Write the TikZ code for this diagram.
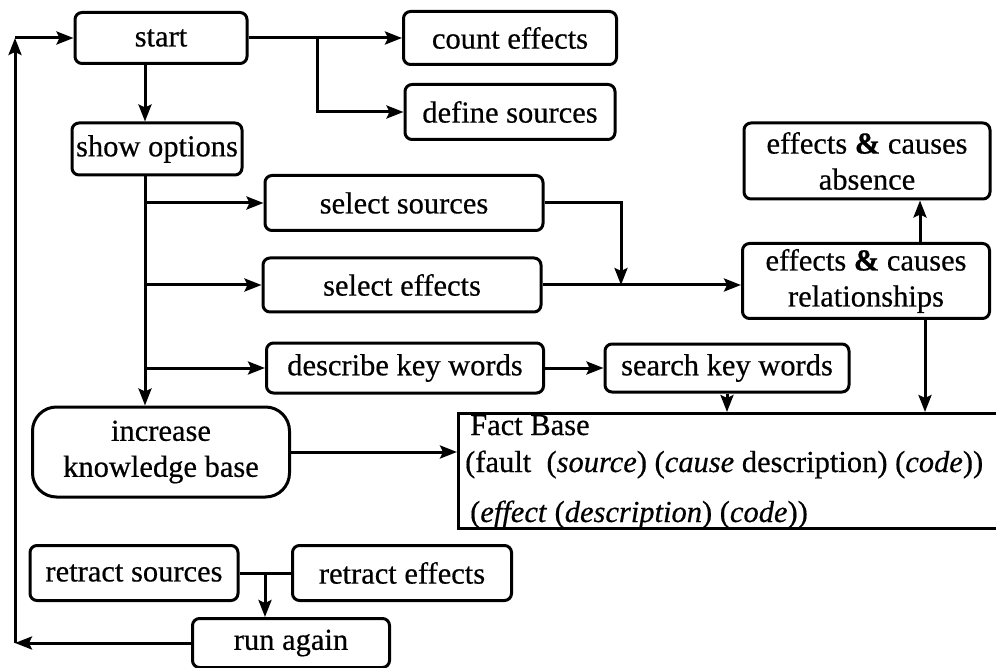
\documentclass[tikz,border=0pt]{standalone}
\usepackage{fontspec}
\setmainfont[FakeBold=0.5]{Liberation Serif}
\usetikzlibrary{arrows.meta}
\begin{document}
\begin{tikzpicture}[x=1pt,y=-1pt,
  box/.style={draw,line width=3pt,rounded corners=7pt,inner sep=0pt,align=center,
    font=\fontsize{30.5}{36}\selectfont},
  conn/.style={line width=3pt},
  arr/.style={conn,-{Stealth[length=17pt,width=13pt,inset=3pt]}},
  ftxt/.style={inner sep=0pt,anchor=base west,font=\fontsize{30.5}{36}\selectfont}]
\fill[white] (0,0) rectangle (996,668);
\clip (0,0) rectangle (996,668);
% nodes
\node[box,minimum width=172pt,minimum height=51pt] (start) at (161,38) {start};
\node[box,minimum width=213pt,minimum height=53pt] (count) at (510,38) {count effects};
\node[box,minimum width=210pt,minimum height=55pt] (define) at (510,112) {define sources};
\node[box,minimum width=170pt,minimum height=52pt] (show) at (157,149) {show options};
\node[box,minimum width=246pt,minimum height=76pt] (absence) at (867,161) {effects \textbf{\&} causes\\absence};
\node[box,minimum width=278pt,minimum height=55pt] (selsrc) at (404,203) {select sources};
\node[box,minimum width=278pt,minimum height=54pt] (seleff) at (402,285) {select effects};
\node[box,minimum width=247pt,minimum height=75pt] (relat) at (866,281) {effects \textbf{\&} causes\\relationships};
\node[box,minimum width=277pt,minimum height=50pt] (describe) at (405,368) {describe key words};
\node[box,minimum width=244pt,minimum height=48pt] (search) at (727,368) {search key words};
\node[box,rounded corners=24pt,minimum width=257pt,minimum height=90pt] (increase) at (161,452) {increase\\knowledge base};
\node[draw,line width=3pt,inner sep=0pt,anchor=north west,minimum width=600pt,minimum height=115pt] (fact) at (457,412) {};
\node[ftxt] (f1) at (470,435) {Fact Base};
\node[ftxt] (f2) at (465,472) {(fault\ \ (\textit{source}) (\textit{cause} description) (\textit{code}))};
\node[ftxt] (f3) at (470,522) {(\textit{effect} (\textit{description}) (\textit{code}))};
\node[box,minimum width=208pt,minimum height=55pt] (retsrc) at (134,573) {retract sources};
\node[box,minimum width=219pt,minimum height=55pt] (reteff) at (402,573) {retract effects};
\node[box,minimum width=197pt,minimum height=49pt] (run) at (291,643) {run again};
% helper coordinates
\coordinate (tx) at (145,0);
\coordinate (bx) at (317,0);
\coordinate (jx) at (621,0);
\coordinate (ax) at (920,0);
\coordinate (fx) at (925,0);
\coordinate (rx) at (265,0);
\coordinate (lx) at (15,0);
% connectors
\draw[arr] (start.east) -- (count.west);
\draw[arr] (start.east -| bx) |- (define.west);
\draw[arr] (start.south -| tx) -- (show.north -| tx);
\draw[arr] (show.south -| tx) -- (increase.north -| tx);
\draw[arr] (selsrc.west -| tx) -- (selsrc.west);
\draw[arr] (seleff.west -| tx) -- (seleff.west);
\draw[arr] (describe.west -| tx) -- (describe.west);
\draw[arr] (selsrc.east) -| (jx |- seleff.east);
\draw[arr] (seleff.east) -- (relat.west |- seleff.east);
\draw[arr] (relat.north -| ax) -- (absence.south -| ax);
\draw[arr] (describe.east) -- (search.west);
\draw[arr] (search.south) -- (search.south |- fact.north);
\draw[arr] (relat.south -| fx) -- (fact.north -| fx);
\draw[arr] (increase.east) -- (increase.east -| fact.west);
\draw[conn] (retsrc.east) -- (reteff.west);
\draw[arr] (retsrc.east -| rx) -- (run.north -| rx);
\draw[arr] (run.west) -- (run.west -| lx);
\draw[arr] (run.west -| lx) -- (start.west -| lx);
\draw[arr] (start.west -| lx) -- (start.west);
\end{tikzpicture}
\end{document}
